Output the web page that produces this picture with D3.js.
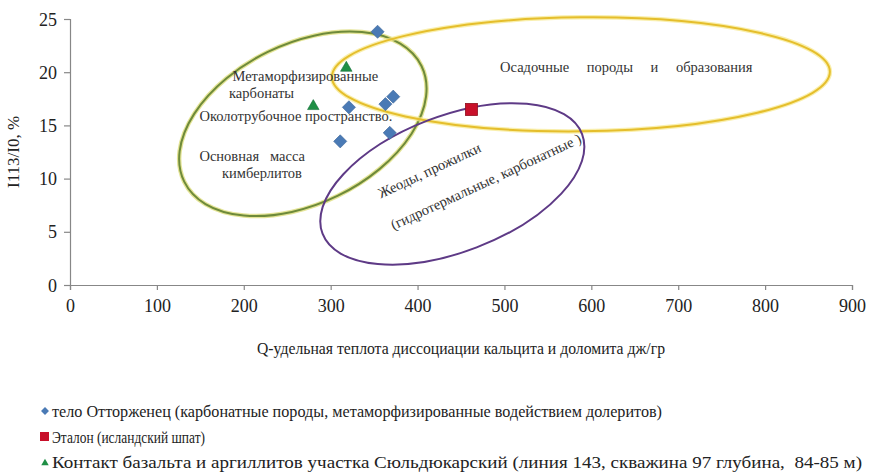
<!DOCTYPE html>
<html>
<head>
<meta charset="utf-8">
<script src="https://cdn.jsdelivr.net/npm/d3@7"></script>
<style>
  html, body { margin: 0; padding: 0; background: #fff; }
  svg { display: block; }
</style>
</head>
<body>
<svg id="chart" width="870" height="472"></svg>
<script>
// Q (J/g) vs I113/I0 (%) for three sample groups
const ottorzhenetsQ = [354, 321, 363, 372, 311, 368];
const ottorzhenetsI = [23.8, 16.7, 17.0, 17.7, 13.5, 14.3];
const etalonQ = [462];
const etalonI = [16.5];
const kontaktQ = [318, 280];
const kontaktI = [20.4, 16.8];

const xTicks = [0, 100, 200, 300, 400, 500, 600, 700, 800, 900];
const yTicks = [0, 5, 10, 15, 20, 25];

const seriesNames = [
  "тело Отторженец (карбонатные породы, метаморфизированные водействием долеритов)",
  "Эталон (исландский шпат)",
  "Контакт базальта и аргиллитов участка Сюльдюкарский (линия 143, скважина 97 глубина,  84-85 м)"
];

// Field outlines: centre in data units
const fieldNames = ["kimberlite", "sediment", "geode"];
const fieldQ = [268, 588, 440];
const fieldI = [15.15, 19.8, 9.5];

const SERIF = "Liberation Serif";
const svg = d3.select("#chart");
const x = d3.scaleLinear().domain([0, 900]).range([70, 852]);
const y = d3.scaleLinear().domain([0, 25]).range([285, 19]);

const axisColor = "#878787";

// axes
const gx = svg.append("g").attr("transform", `translate(0,${y(0)})`)
  .call(d3.axisBottom(x).tickValues(xTicks).tickSize(5).tickPadding(6).tickFormat(d3.format("d")));
const gy = svg.append("g").attr("transform", `translate(${x(0)},0)`)
  .call(d3.axisLeft(y).tickValues(yTicks).tickSize(6).tickPadding(7).tickFormat(d3.format("d")));
[gx, gy].forEach(g => {
  g.attr("font-family", null).attr("font-size", null);
  g.select(".domain").attr("stroke", axisColor).attr("stroke-width", 1.2);
  g.selectAll(".tick line").attr("stroke", axisColor).attr("stroke-width", 1.2);
  g.selectAll(".tick text").attr("fill", "#222").style("font-size", "18px")
    .style("font-family", SERIF);
});
gx.selectAll(".tick text").attr("dy", "0.9em");
gy.selectAll(".tick text").attr("dy", "0.34em");

// field outlines (pixel radii, rotation in degrees)
const fieldShape = {
  kimberlite: { rx: 132, ry: 80, rot: -26, color: "#6e8a3a", glow: "#d8d86a" },
  sediment:   { rx: 249, ry: 57, rot: -0.6, color: "#e5be2c", glow: "#f7e88a" },
  geode:      { rx: 139, ry: 68, rot: -21, color: "#5e3a86", glow: null }
};
const fields = fieldNames.map((n, i) => ({ name: n, q: fieldQ[i], v: fieldI[i], ...fieldShape[n] }));
const fg = svg.append("g");
fields.forEach(f => {
  const t = `translate(${x(f.q)},${y(f.v)}) rotate(${f.rot})`;
  if (f.glow) {
    fg.append("ellipse").attr("transform", t).attr("rx", f.rx).attr("ry", f.ry)
      .attr("fill", "none").attr("stroke", f.glow).attr("stroke-width", 4.5).attr("stroke-opacity", 0.7);
  }
  fg.append("ellipse").attr("transform", t).attr("rx", f.rx).attr("ry", f.ry)
    .attr("fill", "none").attr("stroke", f.color).attr("stroke-width", 2);
});

// annotation labels
const lab = svg.append("g").attr("fill", "#333");
function label(txt) {
  return lab.append("text").style("font-family", SERIF).style("font-size", "14.5px").text(txt);
}
const plainLabels = [
  { t: "Метаморфизированные", q: 187, v: 19.2 },
  { t: "карбонаты", q: 183, v: 17.6 },
  { t: "Околотрубочное пространство.", q: 149, v: 15.4 },
  { t: "Основная   масса", q: 149, v: 11.7 },
  { t: "кимберлитов", q: 175, v: 10.1 }
];
plainLabels.forEach(l => label(l.t).attr("x", x(l.q)).attr("y", y(l.v))
  .attr("xml:space", "preserve").style("white-space", "pre"));
label("Осадочные породы и образования").attr("x", x(495)).attr("y", y(20.05))
  .style("word-spacing", "14px");
label("Жеоды, прожилки").attr("transform", `translate(${x(416)},${y(10.35)}) rotate(-25)`)
  .attr("text-anchor", "middle");
label("(гидротермальные, карбонатные )").attr("transform", `translate(${x(481)},${y(9.3)}) rotate(-25)`)
  .attr("text-anchor", "middle");

// markers
const diamond = d3.symbol().type(d3.symbolDiamond2).size(110);
const triangle = d3.symbol().type(d3.symbolTriangle2).size(95);
const pts = svg.append("g");
pts.selectAll(".d").data(ottorzhenetsQ.map((q, i) => [q, ottorzhenetsI[i]])).join("path")
  .attr("d", diamond).attr("transform", d => `translate(${x(d[0])},${y(d[1])})`)
  .attr("fill", "#4a7ab5").attr("stroke", "#3c6597").attr("stroke-width", 0.6);
pts.selectAll(".s").data(etalonQ.map((q, i) => [q, etalonI[i]])).join("rect")
  .attr("x", d => x(d[0]) - 6).attr("y", d => y(d[1]) - 6).attr("width", 12).attr("height", 12)
  .attr("fill", "#c8102a").attr("stroke", "#8e0e1c").attr("stroke-width", 0.8);
pts.selectAll(".t").data(kontaktQ.map((q, i) => [q, kontaktI[i]])).join("path")
  .attr("d", triangle).attr("transform", d => `translate(${x(d[0])},${y(d[1])})`)
  .attr("fill", "#1f8f45").attr("stroke", "#16703a").attr("stroke-width", 0.6);

// axis titles
svg.append("text").attr("transform", `translate(19,${y(12.5)}) rotate(-90)`)
  .attr("text-anchor", "middle").attr("fill", "#222")
  .style("font-family", SERIF).style("font-size", "17px").text("I113/I0, %");
svg.append("text").attr("x", 461).attr("y", 354).attr("text-anchor", "middle").attr("fill", "#222")
  .style("font-family", SERIF).style("font-size", "17px")
  .attr("textLength", 408).attr("lengthAdjust", "spacingAndGlyphs")
  .text("Q-удельная теплота диссоциации кальцита и доломита дж/гр");

// legend
const leg = svg.append("g").attr("fill", "#222");
const legY = [411, 437, 462];
const legEnds = [662, 205, 862];
seriesNames.forEach((name, i) => {
  const cy = legY[i];
  if (i === 0) leg.append("path").attr("d", d3.symbol().type(d3.symbolDiamond2).size(40))
    .attr("transform", `translate(45,${cy})`).attr("fill", "#4a7ab5");
  if (i === 1) leg.append("rect").attr("x", 40).attr("y", cy - 5).attr("width", 9).attr("height", 9)
    .attr("fill", "#c8102a");
  if (i === 2) leg.append("path").attr("d", d3.symbol().type(d3.symbolTriangle2).size(40))
    .attr("transform", `translate(45,${cy + 1})`).attr("fill", "#1f8f45");
  leg.append("text").attr("x", 52).attr("y", cy + 5.5)
    .style("font-family", SERIF).style("font-size", "17px")
    .attr("textLength", legEnds[i] - 52).attr("lengthAdjust", "spacingAndGlyphs")
    .attr("xml:space", "preserve").style("white-space", "pre").text(name);
});
</script>
</body>
</html>
